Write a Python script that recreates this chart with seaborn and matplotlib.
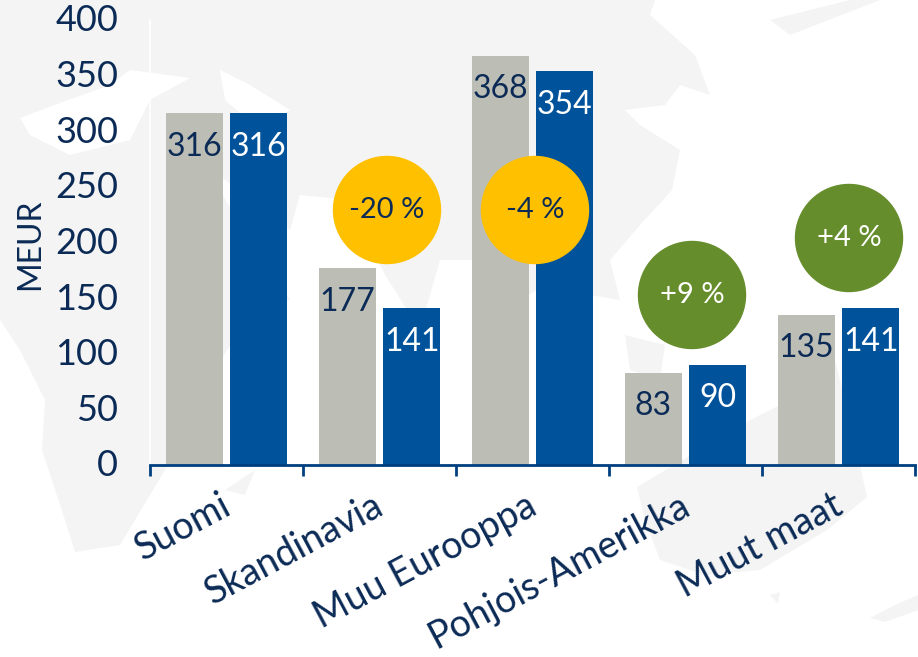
import matplotlib
matplotlib.use('Agg')
import matplotlib.pyplot as plt
from matplotlib.patches import Circle, Polygon
from matplotlib.ticker import MultipleLocator
from matplotlib.transforms import ScaledTranslation
import pandas as pd
import seaborn as sns

regions = ['Suomi', 'Skandinavia', 'Muu Eurooppa', 'Pohjois-Amerikka', 'Muut maat']
prev_year = [316, 177, 368, 83, 135]
this_year = [316, 141, 354, 90, 141]
changes = ['-20 %', '-4 %', '+9 %', '+4 %']
change_cols = ['#FFC000', '#FFC000', '#668D2C', '#668D2C']
change_txt = ['#0B2A55', '#0B2A55', 'white', 'white']
yticks = [0, 50, 100, 150, 200, 250, 300, 350, 400]

# faint world map behind the chart, pixels of the picture
land = [
    # eurasia
    [(0, 0), (655, 0), (650, 15), (695, 55), (710, 95), (680, 85), (665, 105), (625, 110), (640, 125), (680, 150),
     (672, 190), (640, 225), (610, 260), (620, 300), (590, 295), (570, 270), (520, 300), (480, 260), (440, 260),
     (420, 330), (385, 275), (350, 200), (300, 195), (290, 230), (250, 200), (200, 160), (0, 160)],
    # africa
    [(0, 160), (200, 160), (290, 300), (260, 300), (175, 430), (165, 470), (120, 545), (75, 552), (65, 520),
     (42, 450), (45, 400), (20, 350), (0, 320)],
    # australia
    [(637, 487), (750, 420), (800, 395), (835, 360), (850, 420), (867, 497), (827, 530), (760, 570), (705, 575),
     (660, 560), (645, 520)],
    # islands
    [(625, 335), (665, 345), (660, 380), (630, 370)],
    [(225, 490), (255, 470), (245, 495)],
    [(770, 595), (780, 592), (778, 604)],
    [(870, 618), (895, 605), (918, 595), (918, 610), (885, 622)],
    [(850, 0), (880, 0), (790, 35), (770, 20)],
]
sea = [
    [(20, 118), (60, 103), (110, 85), (130, 70), (190, 78), (150, 100), (130, 140), (70, 155), (30, 135)],
    [(220, 70), (250, 85), (290, 110), (260, 130), (225, 100)],
]

NAVY = '#0B2A55'
BLUE = '#00539B'
GREY = '#BCBDB5'
AXIS = '#003F7F'

sns.set_style('white')
plt.rcParams['font.family'] = ['Lato', 'DejaVu Sans']

df = pd.DataFrame({'region': regions * 2,
                   'value': prev_year + this_year,
                   'year': ['prev'] * 5 + ['this'] * 5})

fig = plt.figure(figsize=(9.18, 6.57), dpi=100, facecolor='white')

bg = fig.add_axes([0, 0, 1, 1], zorder=0)
bg.set_xlim(0, 918)
bg.set_ylim(657, 0)
bg.axis('off')
for shape in land:
    bg.add_patch(Polygon(shape, closed=True, facecolor='#F4F4F4', edgecolor='none'))
for shape in sea:
    bg.add_patch(Polygon(shape, closed=True, facecolor='white', edgecolor='none'))

ax = fig.add_axes([150 / 918, 1 - 465 / 657, 765 / 918, 445 / 657], zorder=1)
ax.set_facecolor('none')
sns.barplot(data=df, x='region', y='value', hue='year', order=regions,
            palette=[GREY, BLUE], width=0.843, gap=0.116, saturation=1,
            linewidth=0, legend=False, ax=ax)

for cont, col in zip(ax.containers, [NAVY, 'white']):
    ax.bar_label(cont, padding=-35, color=col, fontsize=23)

ax.set_xlim(-0.5, 4.5)
ax.set_ylim(0, 400)
ax.set_yticks(yticks)
ax.yaxis.set_minor_locator(MultipleLocator(10))
ax.tick_params(axis='y', which='both', length=8, width=1.2, color='white')
ax.tick_params(axis='y', which='major', labelsize=26, labelcolor=NAVY, pad=15)
for lab in ax.get_yticklabels():
    lab.set_transform(lab.get_transform() + ScaledTranslation(0, 1.5 / 72, fig.dpi_scale_trans))
ax.set_ylabel('MEUR', fontsize=23, color=NAVY)
ax.yaxis.set_label_coords((45 - 150) / 765, 0.497)
ax.set_xlabel('')
ax.set_xticks([-0.5, 0.5, 1.5, 2.5, 3.5, 4.5], labels=[''] * 6)
ax.tick_params(axis='x', length=8, width=2, color=AXIS, direction='out', bottom=True)
for i, name in enumerate(regions):
    ax.annotate(name, (i, 0), xytext=(-5, -16), textcoords='offset points',
                rotation=28, ha='right', va='top', rotation_mode='anchor',
                fontsize=27, color=NAVY, annotation_clip=False)
sns.despine(ax=ax)
ax.spines['left'].set_color('white')
ax.spines['left'].set_linewidth(1.2)
ax.spines['bottom'].set_color(AXIS)
ax.spines['bottom'].set_linewidth(2)

# change bubbles, in picture pixels on the top layer
overlay = fig.add_axes([0, 0, 1, 1], zorder=2)
overlay.set_xlim(0, 918)
overlay.set_ylim(657, 0)
overlay.axis('off')
bubble_x = [387, 535, 692, 849]
bubble_y = [210, 210, 295, 238]
for x, y, txt, col, tcol in zip(bubble_x, bubble_y, changes, change_cols, change_txt):
    overlay.add_patch(Circle((x, y), 53.5, color=col))
    overlay.text(x, y, txt, ha='center', va='center', fontsize=21, color=tcol)

fig.savefig('out.png', dpi=100, facecolor='white')
